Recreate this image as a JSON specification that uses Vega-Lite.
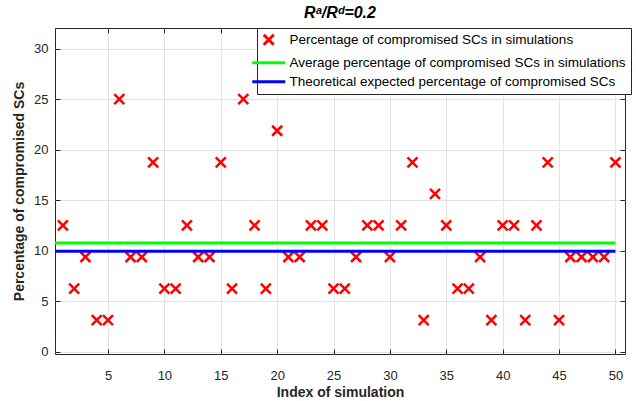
{
  "$schema": "https://vega.github.io/schema/vega-lite/v6.json",
  "width": 570,
  "height": 326,
  "autosize": {"type": "none"},
  "padding": {"left": 55, "top": 28, "right": 11, "bottom": 47},
  "title": {"text": "Rᵃ/Rᵈ=0.2", "fontSize": 16, "fontStyle": "italic", "fontWeight": "bold", "font": "Liberation Sans", "color": "#000000", "offset": 7, "anchor": "middle"},
  "config": {
    "view": {"stroke": "#262626", "strokeWidth": 1},
    "font": "Liberation Sans",
    "axis": {"domain": false, "labelFont": "Liberation Sans", "labelFontSize": 13, "labelColor": "#262626", "titleFont": "Liberation Sans", "titleFontSize": 14, "titleFontWeight": "bold", "titleColor": "#262626", "gridColor": "#e3e3e3", "gridWidth": 1, "tickColor": "#262626"}
  },
  "resolve": {"axis": {"x": "independent", "y": "independent"}},
  "layer": [
    {
      "data": {"values": [
        {"index": 1, "pct": 12.5}, {"index": 2, "pct": 6.25}, {"index": 3, "pct": 9.375}, {"index": 4, "pct": 3.125}, {"index": 5, "pct": 3.125},
        {"index": 6, "pct": 25}, {"index": 7, "pct": 9.375}, {"index": 8, "pct": 9.375}, {"index": 9, "pct": 18.75}, {"index": 10, "pct": 6.25},
        {"index": 11, "pct": 6.25}, {"index": 12, "pct": 12.5}, {"index": 13, "pct": 9.375}, {"index": 14, "pct": 9.375}, {"index": 15, "pct": 18.75},
        {"index": 16, "pct": 6.25}, {"index": 17, "pct": 25}, {"index": 18, "pct": 12.5}, {"index": 19, "pct": 6.25}, {"index": 20, "pct": 21.875},
        {"index": 21, "pct": 9.375}, {"index": 22, "pct": 9.375}, {"index": 23, "pct": 12.5}, {"index": 24, "pct": 12.5}, {"index": 25, "pct": 6.25},
        {"index": 26, "pct": 6.25}, {"index": 27, "pct": 9.375}, {"index": 28, "pct": 12.5}, {"index": 29, "pct": 12.5}, {"index": 30, "pct": 9.375},
        {"index": 31, "pct": 12.5}, {"index": 32, "pct": 18.75}, {"index": 33, "pct": 3.125}, {"index": 34, "pct": 15.625}, {"index": 35, "pct": 12.5},
        {"index": 36, "pct": 6.25}, {"index": 37, "pct": 6.25}, {"index": 38, "pct": 9.375}, {"index": 39, "pct": 3.125}, {"index": 40, "pct": 12.5},
        {"index": 41, "pct": 12.5}, {"index": 42, "pct": 3.125}, {"index": 43, "pct": 12.5}, {"index": 44, "pct": 18.75}, {"index": 45, "pct": 3.125},
        {"index": 46, "pct": 9.375}, {"index": 47, "pct": 9.375}, {"index": 48, "pct": 9.375}, {"index": 49, "pct": 9.375}, {"index": 50, "pct": 18.75}
      ]},
      "transform": [{"calculate": "'Percentage of compromised SCs in simulations'", "as": "series"}],
      "mark": {"type": "point", "filled": false, "strokeWidth": 2.5, "size": 100, "opacity": 1, "clip": true},
      "encoding": {
        "x": {"field": "index", "type": "quantitative", "scale": {"domain": [0.3, 50.85], "nice": false, "zero": false},
              "axis": {"orient": "bottom", "title": "Index of simulation", "values": [5, 10, 15, 20, 25, 30, 35, 40, 45, 50], "grid": true, "tickSize": -5, "labelPadding": 20, "titlePadding": 3}},
        "y": {"field": "pct", "type": "quantitative", "scale": {"domain": [-0.23, 32.05], "nice": false, "zero": false},
              "axis": {"orient": "left", "title": "Percentage of compromised SCs", "values": [0, 5, 10, 15, 20, 25, 30], "grid": true, "tickSize": -5, "labelPadding": 12, "titlePadding": 7}},
        "color": {"field": "series", "type": "nominal",
                  "scale": {"domain": ["Percentage of compromised SCs in simulations", "Average percentage of compromised SCs in simulations", "Theoretical expected percentage of compromised SCs"], "range": ["#ff0000", "#00ff00", "#0000ff"]},
                  "legend": {"orient": "none", "legendX": 202, "legendY": 0, "title": null, "fillColor": "#ffffff", "strokeColor": "#262626", "padding": 5, "labelFontSize": 13.5, "labelFont": "Liberation Sans", "labelColor": "#000000", "labelLimit": 0, "symbolSize": 100, "symbolStrokeWidth": 3, "rowPadding": 4, "labelOffset": 14, "symbolOpacity": 1}},
        "shape": {"field": "series", "type": "nominal",
                  "scale": {"domain": ["Percentage of compromised SCs in simulations", "Average percentage of compromised SCs in simulations", "Theoretical expected percentage of compromised SCs"], "range": ["M-1,-1L1,1M-1,1L1,-1", "M-3.3,0L3.3,0", "M-3.3,0L3.3,0"]}}
      }
    },
    {
      "data": {"values": [
        {"index": 0, "pct": 10.75, "series": "Average percentage of compromised SCs in simulations"},
        {"index": 50, "pct": 10.75, "series": "Average percentage of compromised SCs in simulations"},
        {"index": 0, "pct": 9.95, "series": "Theoretical expected percentage of compromised SCs"},
        {"index": 50, "pct": 9.95, "series": "Theoretical expected percentage of compromised SCs"}
      ]},
      "mark": {"type": "line", "strokeWidth": 3, "clip": true},
      "encoding": {
        "x": {"field": "index", "type": "quantitative", "axis": {"orient": "top", "title": null, "labels": false, "grid": false, "tickSize": -5, "values": [5, 10, 15, 20, 25, 30, 35, 40, 45, 50]}},
        "y": {"field": "pct", "type": "quantitative", "axis": {"orient": "right", "title": null, "labels": false, "grid": false, "tickSize": -5, "values": [0, 5, 10, 15, 20, 25, 30]}},
        "color": {"field": "series", "type": "nominal"}
      }
    }
  ]
}
